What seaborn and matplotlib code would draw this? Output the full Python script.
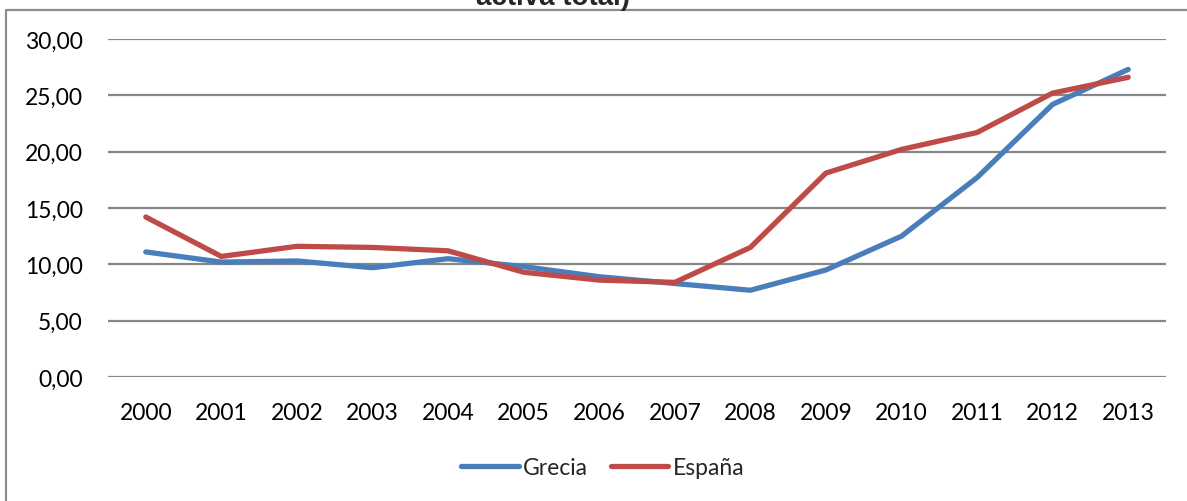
import matplotlib
matplotlib.use("Agg")
import matplotlib.pyplot as plt
from matplotlib.lines import Line2D
from matplotlib.ticker import FuncFormatter
import pandas as pd
import seaborn as sns

# Unemployment rate (% of total active population), 2000-2013
years = [2000, 2001, 2002, 2003, 2004, 2005, 2006,
         2007, 2008, 2009, 2010, 2011, 2012, 2013]
grecia = [11.1, 10.2, 10.3, 9.7, 10.5, 9.8, 8.9,
          8.3, 7.7, 9.5, 12.5, 17.7, 24.2, 27.3]
espana = [14.2, 10.7, 11.6, 11.5, 11.2, 9.3, 8.6,
          8.4, 11.5, 18.1, 20.2, 21.7, 25.2, 26.6]
series_names = ["Grecia", "España"]
title_tail = "activa total)"

df = pd.concat([
    pd.DataFrame({"year": years, "value": grecia, "serie": series_names[0]}),
    pd.DataFrame({"year": years, "value": espana, "serie": series_names[1]}),
])

sns.set_style("white")
plt.rcParams["font.family"] = ["Lato", "DejaVu Sans"]

W, H = 1187, 502
fig = plt.figure(figsize=(W / 100, H / 100), dpi=100)
ax = fig.add_axes([108 / W, 1 - 378 / H, (1166 - 108) / W, (378 - 40) / H])

palette = {"Grecia": "#4A7EBB", "España": "#BE4B48"}
sns.lineplot(data=df, x="year", y="value", hue="serie", palette=palette,
             linewidth=3.8, ax=ax, legend=False, solid_capstyle="round")

ax.set_xlim(years[0] - 0.5, years[-1] + 0.5)
ax.set_ylim(0, 30)
ax.set_yticks(range(0, 31, 5))
ax.set_xticks(years)
ax.yaxis.set_major_formatter(FuncFormatter(lambda v, p: f"{v:.2f}".replace(".", ",")))
ax.grid(axis="y", color="#868686", linewidth=1.6)
ax.set_axisbelow(True)
for s in ax.spines.values():
    s.set_visible(False)
ax.tick_params(axis="both", length=0, labelsize=16.5, colors="black")
ax.tick_params(axis="y", pad=18)
ax.tick_params(axis="x", pad=18)
ax.set_xlabel("")
ax.set_ylabel("")

# Chart border (top and left edges)
fig.add_artist(Line2D([5.5 / W, 5.5 / W, 1.0], [0.0, 1 - 10.5 / H, 1 - 10.5 / H],
                      transform=fig.transFigure, color="#8C8C8C", linewidth=1.6))

# Title (last line of the heading)
fig.text(553 / W, 1 - 5 / H, title_tail, ha="center", va="baseline",
         fontsize=20, fontweight="bold", family=["Liberation Sans", "DejaVu Sans"])

handles = [Line2D([], [], color=palette[n], linewidth=3.8, solid_capstyle="round")
           for n in series_names]
fig.legend(handles, series_names, loc="center", bbox_to_anchor=(603 / W, 1 - 469 / H),
           ncol=2, frameon=False, fontsize=16.5, handlelength=2.5,
           handletextpad=0.2, columnspacing=1.0)

fig.savefig("out.png", dpi=100, facecolor="white")
